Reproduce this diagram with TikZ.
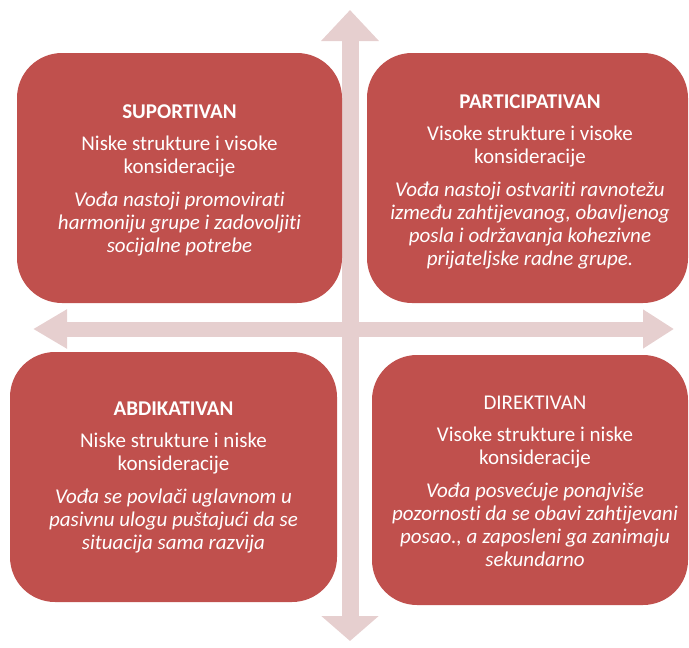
\documentclass[tikz,border=0pt]{standalone}
\usepackage{fontspec}
\setmainfont[Ligatures=NoCommon]{Carlito}
\usetikzlibrary{arrows.meta}
\definecolor{boxred}{HTML}{C0504D}
\definecolor{axispink}{HTML}{E6CFCF}
\newcommand{\opis}[1]{\textit{#1}}
\tikzset{quad/.style = {fill=boxred, text=white, rounded corners=45pt,
                        align=center, inner sep=0pt,
                        font=\fontsize{21}{23}\selectfont},
         axis/.style = {draw=axispink, line width=17pt}}

\begin{document}
\begin{tikzpicture}[x=1pt, y=-1pt]
    \useasboundingbox (0,0) rectangle (689,648);
    \coordinate (up) at (350,10);
    \coordinate (down) at (350,641);
    \coordinate (left) at (33,329);
    \coordinate (right) at (674,329);
    \draw [axis, {Triangle[width=56pt,length=31pt]}-{Triangle[width=56pt,length=25pt]}] (up) -- (down);
    \draw [axis, line width=15pt, {Triangle[width=37pt,length=34pt]}-{Triangle[width=37pt,length=31pt]}] (left) -- (right);
    % quadrants
    \path [quad] (17,53) rectangle (342,303);
    \node [quad] (sup) at (179.5,180) {\textbf{SUPORTIVAN}\\[9pt]
      Niske strukture i visoke\\konsideracije\\[10pt]
      \opis{Vođa nastoji promovirati}\\\opis{harmoniju grupe i zadovoljiti}\\\opis{socijalne potrebe}};
    \path [quad] (367,53) rectangle (688,303);
    \node [quad] (par) at (530,182) {\textbf{PARTICIPATIVAN}\\[9pt]
      Visoke strukture i visoke\\konsideracije\\[10pt]
      \opis{Vođa nastoji ostvariti ravnotežu}\\\opis{između zahtijevanog, obavljenog}\\\opis{posla i održavanja kohezivne}\\\opis{prijateljske radne grupe.}};
    \path [quad] (10,352) rectangle (337,602);
    \node [quad] (abd) at (173.5,477) {\textbf{ABDIKATIVAN}\\[9pt]
      Niske strukture i niske\\konsideracije\\[10pt]
      \opis{Vođa se povlači uglavnom u}\\\opis{pasivnu ulogu puštajući da se}\\\opis{situacija sama razvija}};
    \path [quad] (372,355) rectangle (688,605);
    \node [quad] (dir) at (535,481) {DIREKTIVAN\\[9pt]
      Visoke strukture i niske\\konsideracije\\[10pt]
      \opis{Vođa posvećuje ponajviše}\\\opis{pozornosti da se obavi zahtijevani}\\\opis{posao., a zaposleni ga zanimaju}\\\opis{sekundarno}};
\end{tikzpicture}
\end{document}
